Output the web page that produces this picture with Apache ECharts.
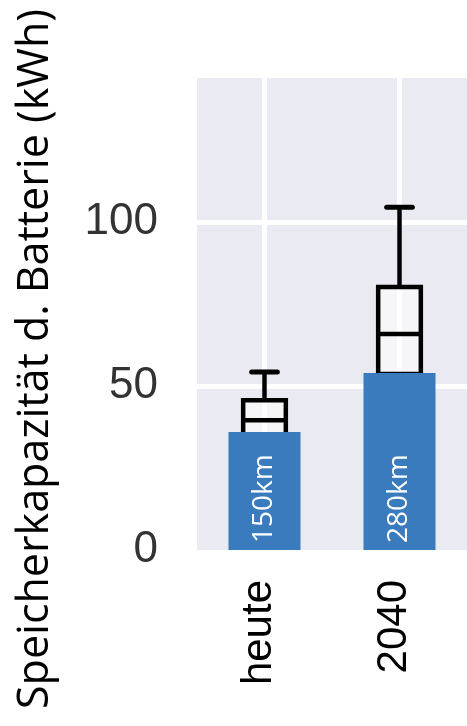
<!DOCTYPE html>
<html>
<head>
<meta charset="utf-8">
<script src="https://cdn.jsdelivr.net/npm/echarts@6/dist/echarts.min.js"></script>
<style>html,body{margin:0;padding:0;background:#fff}#c{width:467px;height:726px}</style>
</head>
<body>
<div id="c"></div>
<script>
var categories = ['heute', '2040'];
var barValues = [36, 54];
var barLabels = ['150km', '280km'];
// [min, Q1, median, Q3, max]
var boxValues = [
  [28, 33.5, 39.6, 45.7, 54.3],
  [41.2, 53.7, 65.9, 80.2, 104.6]
];
var yTicks = [0, 50, 100];

var chart = echarts.init(document.getElementById('c'));
chart.setOption({
  animation: false,
  grid: { left: 197, top: 78, width: 279, height: 472, show: true, backgroundColor: '#eaeaf2', borderWidth: 0 },
  xAxis: {
    type: 'category', data: categories,
    axisLine: { show: false }, axisTick: { show: false, alignWithLabel: true },
    splitLine: { show: true, alignWithLabel: true, lineStyle: { color: '#ffffff', width: 5 } },
    axisLabel: { rotate: 90, margin: 30, fontSize: 42, color: '#000', fontFamily: 'Liberation Sans',
      verticalAlign: 'bottom', lineHeight: 10 }
  },
  yAxis: {
    type: 'value', min: 0, max: 144, interval: 50,
    axisLine: { show: false }, axisTick: { show: false },
    splitLine: { show: true, showMinLine: false, showMaxLine: false, lineStyle: { color: '#ffffff', width: 5 } },
    axisLabel: { margin: 39, fontSize: 44, color: '#333', fontFamily: 'Liberation Sans', showMaxLabel: false,
      formatter: function (v) { return yTicks.indexOf(v) >= 0 ? String(v) : ''; } }
  },
  graphic: [{
    type: 'text', x: 36, y: 359, rotation: Math.PI / 2,
    style: { text: 'Speicherkapazität d. Batterie (kWh)', fontSize: 43, fontFamily: 'Open Sans', fill: '#000', align: 'center', verticalAlign: 'middle' }
  }],
  series: [{
    type: 'bar', data: barValues, barWidth: 72,
    itemStyle: { color: '#3a7bbd' },
    label: {
      show: true, position: 'insideBottom', rotate: 90, align: 'left', verticalAlign: 'middle', distance: 7,
      fontSize: 28, fontFamily: 'Open Sans', color: '#fff',
      formatter: function (p) { return barLabels[p.dataIndex]; }
    }
  }, {
    type: 'custom',
    data: boxValues.map(function (b, i) { return [i].concat(b); }),
    encode: { x: 0, y: [1, 2, 3, 4, 5] },
    renderItem: function (params, api) {
      var i = api.value(0);
      var pMin = api.coord([i, api.value(1)]);
      var pQ1 = api.coord([i, api.value(2)]);
      var pMed = api.coord([i, api.value(3)]);
      var pQ3 = api.coord([i, api.value(4)]);
      var pMax = api.coord([i, api.value(5)]);
      var band = api.size([1, 0])[0];
      var bw = band * 0.316;
      var cw = band * 0.19;
      var cx = pMed[0];
      var st = { stroke: '#000', lineWidth: 4.5, fill: null };
      var boxSt = { stroke: '#000', lineWidth: 4.5, fill: 'rgba(255,255,255,0.55)' };
      var cap = { stroke: '#000', lineWidth: 5, lineCap: 'round' };
      return {
        type: 'group',
        children: [
          { type: 'line', shape: { x1: cx, y1: pMax[1], x2: cx, y2: pQ3[1] }, style: st },
          { type: 'line', shape: { x1: cx, y1: pMin[1], x2: cx, y2: pQ1[1] }, style: st },
          { type: 'line', shape: { x1: cx - cw / 2, y1: pMax[1], x2: cx + cw / 2, y2: pMax[1] }, style: cap },
          { type: 'line', shape: { x1: cx - cw / 2, y1: pMin[1], x2: cx + cw / 2, y2: pMin[1] }, style: cap },
          { type: 'rect', shape: { x: cx - bw / 2, y: pQ3[1], width: bw, height: pQ1[1] - pQ3[1] }, style: boxSt },
          { type: 'line', shape: { x1: cx - bw / 2, y1: pMed[1], x2: cx + bw / 2, y2: pMed[1] }, style: st }
        ]
      };
    }
  }]
});
</script>
</body>
</html>
